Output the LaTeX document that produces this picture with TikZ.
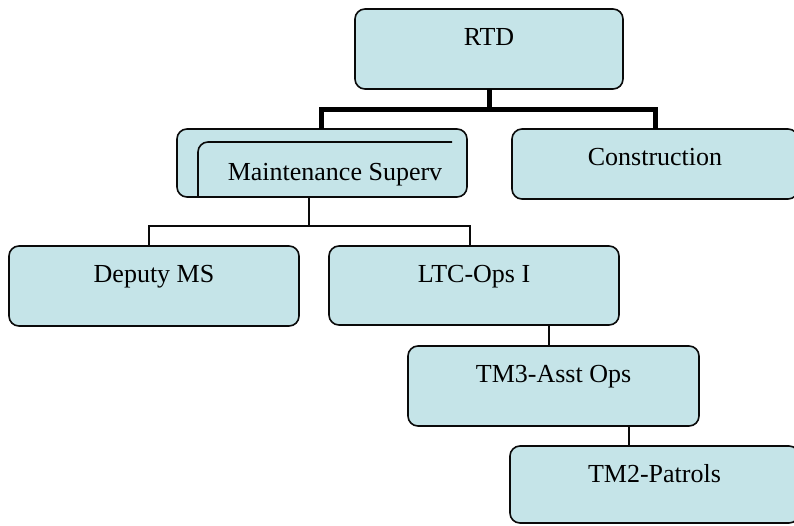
\documentclass[tikz,border=0pt]{standalone}
\usepackage{fontspec}
\setmainfont{Liberation Serif}
\usetikzlibrary{calc}
\definecolor{boxfill}{RGB}{197,228,232}
\definecolor{edge}{RGB}{10,10,10}
\begin{document}
\begin{tikzpicture}[x=1pt,y=-1pt,
  orgbox/.style={draw=edge, line width=1.6pt, fill=boxfill, rounded corners=10pt,
    inner sep=0pt, outer sep=0pt, anchor=north west},
  lbl/.style={anchor=base, inner sep=0pt, font=\fontsize{26}{30}\selectfont},
  thickc/.style={draw=black, line width=5pt, line join=miter},
  thinc/.style={draw=edge, line width=1.4pt},
  inner/.style={draw=edge, line width=1.6pt, rounded corners=10pt}]
\useasboundingbox (0,0) rectangle (794,525);
\clip (0,0) rectangle (794,525);
\fill[white] (0,0) rectangle (794,525);
% boxes
\node[orgbox, minimum width=268pt, minimum height=80pt] (rtd) at (355,9) {};
\node[orgbox, minimum width=290pt, minimum height=68pt] (maint) at (177,129) {};
\node[orgbox, minimum width=286pt, minimum height=70pt] (constr) at (512,129) {};
\node[orgbox, minimum width=290pt, minimum height=80pt] (dep) at (9,246) {};
\node[orgbox, minimum width=290pt, minimum height=79pt] (ltc) at (329,246) {};
\node[orgbox, minimum width=291pt, minimum height=80pt] (tm3) at (408,346) {};
\node[orgbox, minimum width=289pt, minimum height=77pt] (tm2) at (510,446) {};
% inner frame of Maintenance box
\draw[inner] ($(maint.south west)+(21,0)$) -- ($(maint.north west)+(21,13)$) -- ($(maint.north west)+(275,13)$);
% labels
\node[lbl] (trtd) at ($(rtd.north)+(0,36)$) {RTD};
\node[lbl] (tmaint) at ($(maint.north)+(13,51)$) {Maintenance Superv};
\node[lbl] (tconstr) at ($(constr.north)+(0,36)$) {Construction};
\node[lbl] (tdep) at ($(dep.north)+(0,36)$) {Deputy MS};
\node[lbl] (tltc) at ($(ltc.north)+(0,36)$) {LTC-Ops I};
\node[lbl] (ttm3) at ($(tm3.north)+(0,36)$) {TM3-Asst Ops};
\node[lbl] (ttm2) at ($(tm2.north)+(0,36)$) {TM2-Patrols};
% thick connectors
\coordinate (tj) at ($(rtd.south)+(0,20.5)$);
\draw[thickc] (rtd.south) -- (tj);
\draw[thickc] ([xshift=-1pt]maint.north) |- (tj) -| (constr.north);
% thin connectors
\coordinate (mj) at ($(maint.south)+(-13,29)$);
\draw[thinc] ([xshift=-13pt]maint.south) -- (mj);
\draw[thinc] ([xshift=-5pt]dep.north) |- (mj) -| ([xshift=-4pt]ltc.north);
\coordinate (a3) at ([xshift=-4.5pt]tm3.north);
\draw[thinc] (a3 |- ltc.south) -- (a3);
\coordinate (a2) at ([xshift=-25.5pt]tm2.north);
\draw[thinc] (a2 |- tm3.south) -- (a2);
\end{tikzpicture}
\end{document}
